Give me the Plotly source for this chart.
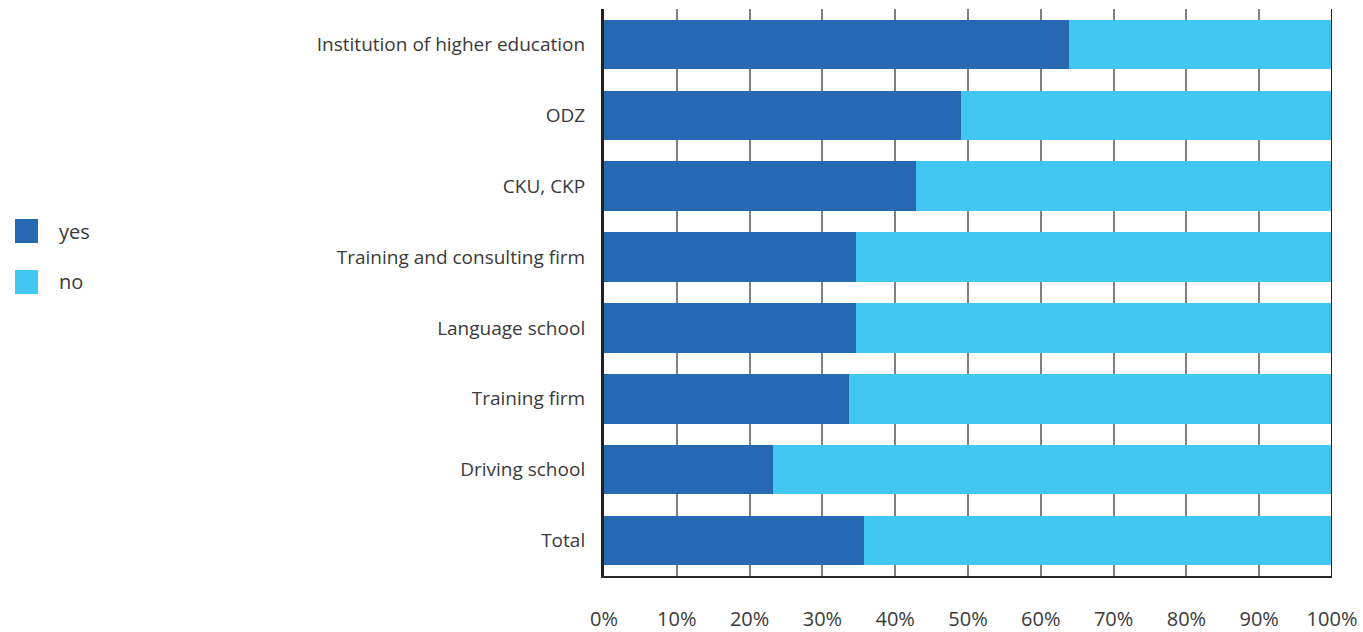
import plotly.graph_objects as go

# Share of respondents answering yes / no, by type of training provider
categories = [
    "Institution of higher education",
    "ODZ",
    "CKU, CKP",
    "Training and consulting firm",
    "Language school",
    "Training firm",
    "Driving school",
    "Total",
]
yes_pct = [63.9, 49.1, 42.9, 34.6, 34.6, 33.7, 23.2, 35.7]
no_pct = [round(100 - v, 1) for v in yes_pct]
tick_vals = [0, 10, 20, 30, 40, 50, 60, 70, 80, 90, 100]
tick_text = [f"{v}%" for v in tick_vals]

YES_COLOR = "#2669b2"
NO_COLOR = "#42c7f3"
TEXT_COLOR = "#3a3a3a"
FONT = "Open Sans, Noto Sans, sans-serif"

fig = go.Figure()
fig.add_trace(go.Bar(y=categories, x=yes_pct, orientation="h", name="yes",
                     marker=dict(color=YES_COLOR, line=dict(width=0))))
fig.add_trace(go.Bar(y=categories, x=no_pct, orientation="h", name="no",
                     marker=dict(color=NO_COLOR, line=dict(width=0))))

fig.update_layout(
    width=1363, height=632,
    barmode="stack", bargap=0.3,
    showlegend=False,
    paper_bgcolor="white", plot_bgcolor="white",
    margin=dict(l=604, r=31, t=9, b=56, autoexpand=False),
    font=dict(family=FONT, size=20, color=TEXT_COLOR),
)
fig.update_xaxes(
    range=[0, 100], tickvals=tick_vals, ticktext=tick_text,
    showgrid=True, gridcolor="#808080", gridwidth=1.5,
    zeroline=False, showline=True, linecolor="#2a2a2a", linewidth=2,
    ticks="", ticklabelstandoff=24, automargin=False,
    tickfont=dict(family=FONT, size=20, color=TEXT_COLOR),
    fixedrange=True,
)
fig.update_yaxes(
    categoryorder="array", categoryarray=categories, autorange="reversed",
    showgrid=False, zeroline=False, showline=True, linecolor="#231f20",
    linewidth=3, ticks="", ticklabelstandoff=12, automargin=False,
    tickfont=dict(family=FONT, size=19, color=TEXT_COLOR),
    fixedrange=True,
)

# Right border at 100%
fig.add_shape(type="line", xref="x", yref="paper", x0=100, x1=100, y0=0, y1=1,
              line=dict(color="#222222", width=2), layer="above")

# Legend drawn at the far left
legend_items = [("yes", YES_COLOR), ("no", NO_COLOR)]
px_w = 1363 - 604 - 31
px_h = 632 - 9 - 56
for i, (label, color) in enumerate(legend_items):
    top = 219 + i * 51
    x0 = (15 - 604) / px_w
    x1 = (38 - 604) / px_w
    y0 = 1 - (top + 24 - 9) / px_h
    y1 = 1 - (top - 9) / px_h
    fig.add_shape(type="rect", xref="paper", yref="paper", x0=x0, x1=x1, y0=y0, y1=y1,
                  fillcolor=color, line=dict(width=0))
    fig.add_annotation(xref="paper", yref="paper", x=(57 - 604) / px_w, y=(y0 + y1) / 2,
                       text=label, showarrow=False, xanchor="left", yanchor="middle",
                       font=dict(family=FONT, size=20, color=TEXT_COLOR))

fig.write_html("out.html")
